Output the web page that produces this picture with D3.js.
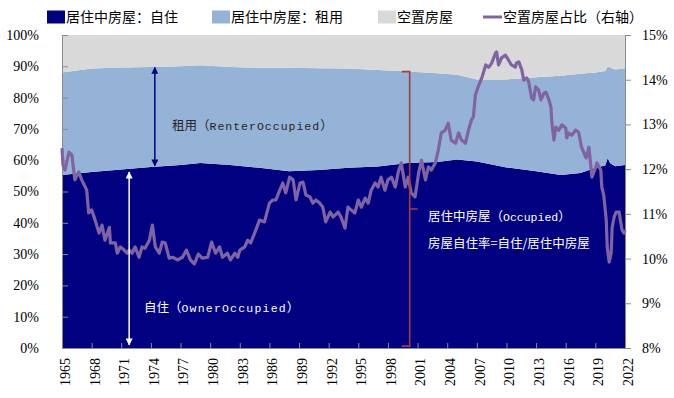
<!DOCTYPE html>
<html>

<head>
    <meta charset="utf-8">
    <style>
    body {
        margin: 0px;
        padding: 0px;
        background-color: white;
        overflow: hidden;
    }

    .axis path,
    .axis line {
        fill: none;
        stroke: #8c8c8c;
        stroke-width: 1px;
    }

    .axis text {
        font: 14px "Liberation Serif", serif;
        fill: #000;
    }

    .legend text {
        font: 14px "Noto Sans CJK SC", sans-serif;
        fill: #000;
    }

    .note {
        font: 12.5px "Noto Sans CJK SC", sans-serif;
    }
    </style>
</head>

<body>
</body>
<script src="https://cdn.jsdelivr.net/npm/d3@7"></script>
<script>
// share of housing stock, %: owner-occupied / renter-occupied / vacant
var shareYears = [1965, 1968, 1971, 1974, 1977, 1979, 1982, 1985, 1988, 1991, 1994, 1997, 2000,
    2003, 2005, 2007, 2010, 2013, 2015.5, 2017.5, 2019, 2020, 2020.25, 2020.5, 2021, 2022];
var ownerShare = [55.3, 56.2, 57.0, 57.8, 58.5, 59.1, 58.5, 57.6, 56.5, 56.9, 57.6, 58.0, 59.1,
    59.4, 60.2, 59.6, 57.7, 56.5, 55.3, 55.9, 57.6, 58.3, 60.7, 59.0, 58.1, 58.5];
var renterShare = [32.7, 33.1, 32.6, 32.0, 31.5, 31.2, 31.3, 31.9, 33.0, 32.5, 31.7, 30.8, 29.2,
    28.4, 27.1, 26.2, 28.1, 30.0, 31.7, 31.7, 30.4, 30.2, 29.2, 30.6, 30.9, 30.9];
var vacantShare = [12.0, 10.7, 10.4, 10.2, 10.0, 9.7, 10.2, 10.5, 10.5, 10.6, 10.7, 11.2, 11.7,
    12.2, 12.7, 14.2, 14.2, 13.5, 13.0, 12.4, 12.0, 11.5, 10.1, 10.4, 11.0, 10.6];

// vacant share line (right axis), [year, %]
var vacancyRate = [
    [1965.0, 12.47], [1965.1, 12.09], [1965.3, 11.98], [1965.7, 12.38], [1966.0, 12.32],
    [1966.3, 11.76], [1966.7, 11.94], [1967.0, 11.76], [1967.5, 11.53], [1967.7, 11.02],
    [1968.0, 11.09], [1968.35, 10.86], [1968.75, 10.57], [1969.05, 10.75], [1969.35, 10.41],
    [1969.8, 10.70], [1969.9, 10.35], [1970.4, 10.35], [1970.6, 10.12], [1970.9, 10.26],
    [1971.3, 10.19], [1971.6, 10.12], [1971.8, 10.19], [1972.1, 10.12], [1972.4, 10.26],
    [1972.8, 10.03], [1973.1, 10.26], [1973.4, 10.23], [1973.85, 10.41], [1974.15, 10.75],
    [1974.45, 10.26], [1974.85, 10.12], [1975.15, 10.37], [1975.45, 10.35], [1975.85, 10.01],
    [1976.2, 10.03], [1976.7, 9.97], [1977.2, 10.03], [1977.6, 10.19], [1978.0, 9.97],
    [1978.4, 9.88], [1978.8, 10.10], [1979.2, 10.01], [1979.75, 10.03], [1980.15, 10.37],
    [1980.55, 10.12], [1980.95, 10.26], [1981.25, 10.03], [1981.75, 10.12], [1982.05, 9.97],
    [1982.5, 10.12], [1982.8, 10.03], [1983.0, 10.19], [1983.5, 10.26], [1983.8, 10.41],
    [1984.1, 10.35], [1984.5, 10.57], [1985.0, 10.86], [1985.5, 10.82], [1986.0, 11.24],
    [1986.35, 11.31], [1986.65, 11.31], [1987.05, 11.53], [1987.35, 11.69], [1987.65, 11.47],
    [1988.05, 11.82], [1988.4, 11.76], [1988.7, 11.31], [1989.1, 11.69], [1989.4, 11.71],
    [1989.7, 11.42], [1990.1, 11.38], [1990.4, 11.24], [1990.7, 11.31], [1991.1, 11.24],
    [1991.4, 11.15], [1991.7, 10.82], [1992.15, 11.04], [1992.45, 10.93], [1992.95, 11.04],
    [1993.25, 10.93], [1993.65, 10.68], [1993.95, 11.15], [1994.25, 11.09], [1994.65, 11.02],
    [1995.0, 11.31], [1995.3, 11.15], [1995.7, 11.35], [1996.0, 11.24], [1996.3, 11.53],
    [1996.7, 11.69], [1997.0, 11.60], [1997.3, 11.82], [1997.7, 11.53], [1998.0, 11.76],
    [1998.35, 11.82], [1998.75, 11.60], [1999.05, 11.94], [1999.35, 12.14], [1999.75, 11.60],
    [2000.05, 11.82], [2000.35, 11.47], [2000.75, 11.38], [2001.1, 11.91], [2001.4, 12.20],
    [2001.8, 11.76], [2002.1, 12.05], [2002.4, 11.98], [2002.8, 12.14], [2003.1, 12.43],
    [2003.4, 12.81], [2003.8, 12.87], [2004.1, 13.03], [2004.4, 12.65], [2004.85, 12.58],
    [2005.15, 12.81], [2005.45, 12.65], [2005.85, 12.58], [2006.15, 12.87], [2006.45, 13.10],
    [2006.65, 13.17], [2006.85, 13.66], [2007.2, 13.88], [2007.5, 14.04], [2007.9, 14.33],
    [2008.2, 14.28], [2008.5, 14.37], [2008.9, 14.60], [2009.0, 14.62], [2009.2, 14.33],
    [2009.5, 14.49], [2009.9, 14.55], [2010.2, 14.44], [2010.5, 14.33], [2010.9, 14.28],
    [2011.0, 14.37], [2011.25, 14.40], [2011.55, 14.22], [2011.75, 13.99], [2012.05, 14.04],
    [2012.25, 13.95], [2012.55, 13.59], [2012.75, 13.55], [2012.95, 13.84], [2013.25, 13.77],
    [2013.5, 13.55], [2013.8, 13.70], [2014.0, 13.72], [2014.3, 13.55], [2014.5, 13.39],
    [2014.6, 13.03], [2014.8, 12.65], [2015.0, 12.94], [2015.3, 12.87], [2015.6, 12.99],
    [2016.0, 12.92], [2016.1, 12.70], [2016.3, 12.81], [2016.6, 12.76], [2017.0, 12.87],
    [2017.3, 12.83], [2017.6, 12.49], [2017.85, 12.36], [2018.05, 12.25], [2018.35, 12.49],
    [2018.65, 11.82], [2019.05, 12.05], [2019.15, 12.14], [2019.55, 11.98], [2019.65, 11.60],
    [2019.85, 11.42], [2020.1, 10.86], [2020.2, 10.26], [2020.4, 9.92], [2020.6, 10.12],
    [2020.7, 10.70], [2020.9, 10.93], [2021.1, 11.04], [2021.4, 11.04], [2021.7, 10.64],
    [2021.9, 10.57], [2022.0, 10.64]
];

var xTickYears = d3.range(1965, 2023, 3);
var leftTicks = d3.range(0, 101, 10);
var rightTicks = d3.range(8, 15.1, 1);

var seriesNames = ["居住中房屋：自住", "居住中房屋：租用", "空置房屋", "空置房屋占比（右轴）"];
var colors = ["#000080", "#95B3D7", "#D9D9D9", "#8064A2"];

var plot = { left: 62, right: 625, top: 35, bottom: 348 };

var x = d3.scaleLinear().domain([1965, 2022]).range([plot.left, plot.right]);
var yL = d3.scaleLinear().domain([0, 100]).range([plot.bottom, plot.top]);
var yR = d3.scaleLinear().domain([8, 15]).range([plot.bottom, plot.top]);

var svg = d3.select("body").append("svg")
    .attr("width", 674)
    .attr("height", 398);

var defs = svg.append("defs");
function addArrow(id, color) {
    defs.append("marker")
        .attr("id", id)
        .attr("viewBox", "0 0 10 10")
        .attr("refX", 9)
        .attr("refY", 5)
        .attr("markerUnits", "userSpaceOnUse")
        .attr("markerWidth", 8)
        .attr("markerHeight", 7)
        .attr("orient", "auto-start-reverse")
        .append("path")
        .attr("d", "M0,0 L10,5 L0,10 z")
        .attr("fill", color);
}
addArrow("arrNavy", "#000080");
addArrow("arrWhite", "#ffffff");

// stacked areas
var rows = shareYears.map(function(yr, i) {
    return { yr: yr, owner: ownerShare[i], renter: renterShare[i], vacant: vacantShare[i] };
});
var stack = d3.stack().keys(["owner", "renter", "vacant"]);
var layers = stack(rows);

var area = d3.area()
    .x(function(d) { return x(d.data.yr); })
    .y0(function(d) { return yL(d[0]); })
    .y1(function(d) { return yL(d[1]); });

svg.append("g").selectAll("path")
    .data(layers)
    .enter().append("path")
    .attr("d", area)
    .attr("fill", function(d, i) { return colors[i]; });

// axes
svg.append("g")
    .attr("class", "axis")
    .attr("transform", "translate(" + plot.left + ",0)")
    .call(d3.axisLeft(yL).tickValues(leftTicks).tickSize(-6).tickSizeOuter(0).tickPadding(23)
        .tickFormat(function(d) { return d + "%"; }));

svg.append("g")
    .attr("class", "axis")
    .attr("transform", "translate(" + plot.right + ",0)")
    .call(d3.axisRight(yR).tickValues(rightTicks).tickSize(6).tickSizeOuter(0).tickPadding(11)
        .tickFormat(function(d) { return d + "%"; }));

var xAxis = svg.append("g")
    .attr("class", "axis")
    .attr("transform", "translate(0," + plot.bottom + ")")
    .call(d3.axisBottom(x).tickValues(xTickYears).tickSize(-5).tickSizeOuter(0)
        .tickFormat(d3.format("d")));
xAxis.selectAll("text")
    .attr("transform", "rotate(-90)")
    .attr("text-anchor", "end")
    .attr("x", -10)
    .attr("y", 2.5)
    .attr("dy", "0.35em");

// vacancy line
var line = d3.line()
    .x(function(d) { return x(d[0]); })
    .y(function(d) { return yR(d[1]); });

svg.append("path")
    .datum(vacancyRate)
    .attr("d", line)
    .attr("fill", "none")
    .attr("stroke", colors[3])
    .attr("stroke-width", 3.2)
    .attr("stroke-linejoin", "round");

// annotations
svg.append("line")
    .attr("x1", x(1974.4)).attr("x2", x(1974.4))
    .attr("y1", yL(58.2)).attr("y2", yL(89.6))
    .attr("stroke", "#000080")
    .attr("stroke-width", 1.5)
    .attr("marker-start", "url(#arrNavy)")
    .attr("marker-end", "url(#arrNavy)");

svg.append("line")
    .attr("x1", x(1971.8)).attr("x2", x(1971.8))
    .attr("y1", yL(1)).attr("y2", yL(56.2))
    .attr("stroke", "#ffffff")
    .attr("stroke-width", 1.5)
    .attr("marker-start", "url(#arrWhite)")
    .attr("marker-end", "url(#arrWhite)");

var bx = x(2000.2);
svg.append("path")
    .attr("d", "M" + (bx - 8) + "," + yL(88.3) + "H" + bx + "V" + yL(44.4) + "H" + (bx + 8) +
        "M" + bx + "," + yL(44.4) + "V" + yL(0.6) + "H" + (bx - 8))
    .attr("fill", "none")
    .attr("stroke", "#A0403C")
    .attr("stroke-width", 1.6);

function note(cx, cy, color, cjk, latin, spacing, tail) {
    var t = svg.append("text")
        .attr("class", "note")
        .attr("x", cx)
        .attr("y", cy)
        .attr("fill", color);
    t.append("tspan").text(cjk);
    if (latin) {
        t.append("tspan")
            .style("font-family", "'Liberation Mono', monospace")
            .style("font-size", "11.5px")
            .style("letter-spacing", spacing + "px")
            .text(latin);
        t.append("tspan").text(tail);
    }
}
note(172, 129.5, "#262626", "租用（", "RenterOccupied", 1.0, "）");
note(144, 311.5, "#ffffff", "自住（", "OwnerOccupied", 1.2, "）");
note(428, 221, "#ffffff", "居住中房屋（", "Occupied", 0, "）");
note(428, 247.5, "#ffffff", "房屋自住率=自住/居住中房屋");

// legend
var legendX = [47, 212, 378, 483];
var legend = svg.append("g").attr("class", "legend");
seriesNames.forEach(function(name, i) {
    var g = legend.append("g").attr("transform", "translate(" + legendX[i] + ",17)");
    if (i < 3) {
        g.append("rect")
            .attr("x", 0).attr("y", -6.5)
            .attr("width", 18).attr("height", 13)
            .attr("fill", colors[i]);
    } else {
        g.append("line")
            .attr("x1", 0).attr("x2", 19)
            .attr("stroke", colors[i])
            .attr("stroke-width", 3);
    }
    g.append("text")
        .attr("x", i < 3 ? 19 : 20)
        .attr("y", 5)
        .text(name);
});
</script>

</html>
